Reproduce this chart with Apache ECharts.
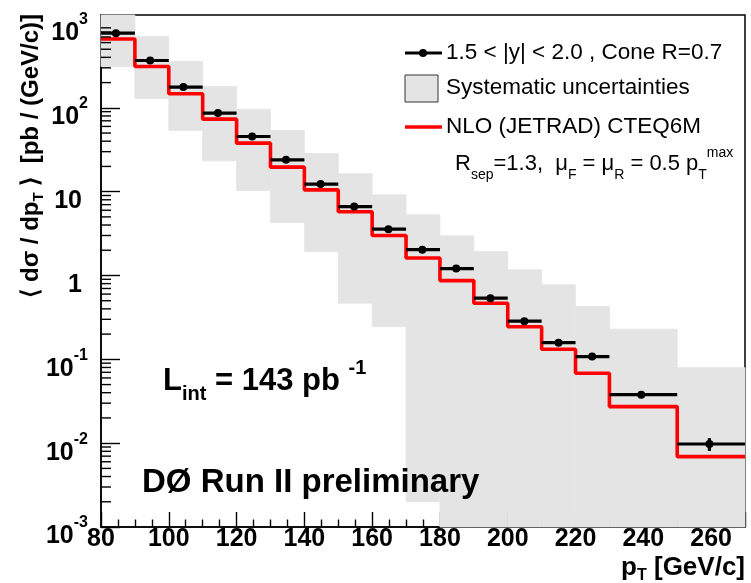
<!DOCTYPE html>
<html>
<head>
<meta charset="utf-8">
<script src="https://cdn.jsdelivr.net/npm/echarts@6/dist/echarts.min.js"></script>
<style>
html, body { margin: 0; padding: 0; background: #fff; }
#chart { width: 751px; height: 583px; }
</style>
</head>
<body>
<div id="chart"></div>
<script>
// pT bins [GeV/c]
var binLo = [80, 90, 100, 110, 120, 130, 140, 150, 160, 170, 180, 190, 200, 210, 220, 230, 250];
var binHi = [90, 100, 110, 120, 130, 140, 150, 160, 170, 180, 190, 200, 210, 220, 230, 250, 270];
// mean pT of each bin (where the marker sits)
var ptMean = [84.4, 94.5, 104.3, 114.5, 124.6, 134.6, 144.8, 154.7, 164.8, 174.8, 184.8, 194.9, 204.9, 215.0, 224.9, 239.4, 259.5];
// measured <dsigma/dpT> [pb/(GeV/c)] and statistical error
var xsec = [778, 367, 177, 86.5, 45.5, 24.0, 12.3, 6.64, 3.57, 2.03, 1.21, 0.537, 0.285, 0.158, 0.108, 0.0379, 0.00977];
var statErr = [2, 1, 0.5, 0.3, 0.15, 0.09, 0.05, 0.03, 0.02, 0.012, 0.008, 0.004, 0.003, 0.002, 0.0018, 0.0012, 0.0017];
// systematic band (lower / upper edge)
var sysLo = [311, 129, 53.6, 23.3, 10.3, 4.28, 1.93, 0.467, 0.245, 0.0020, 0.0005, 0.0005, 0.0005, 0.0005, 0.0005, 0.0005, 0.0005];
var sysHi = [1500, 710, 357, 180, 96, 53.6, 28.5, 16.4, 9.16, 5.29, 2.97, 1.93, 1.17, 0.773, 0.426, 0.229, 0.0796];
// NLO (JETRAD) CTEQ6M prediction per bin
var nlo = [661, 311, 147, 73.3, 37.9, 19.6, 10.5, 5.75, 3.0, 1.62, 0.869, 0.467, 0.245, 0.132, 0.0683, 0.0273, 0.0069];
// axis ticks
var xTicks = [80, 100, 120, 140, 160, 180, 200, 220, 240, 260];
var yDecades = [0.001, 0.01, 0.1, 1, 10, 100, 1000];
var yMin = 0.001, yMax = 1280;

var FONT = '"Liberation Sans", Arial, Helvetica, sans-serif';
var GRAY = '#e4e4e4';

// minor log ticks 2..9 in every decade
var yMinor = [];
yDecades.forEach(function (d) {
    for (var k = 2; k <= 9; k++) {
        if (d * k < yMax) yMinor.push(+(d * k).toPrecision(3));
    }
});

var bandData = [], pointData = [], nloData = [];
for (var i = 0; i < binLo.length; i++) {
    bandData.push([binLo[i], binHi[i], sysHi[i], sysLo[i]]);
    pointData.push([binLo[i], binHi[i], ptMean[i], xsec[i], statErr[i]]);
    nloData.push([binLo[i], nlo[i]]);
}
nloData.push([binHi[binHi.length - 1], nlo[nlo.length - 1]]);

function clipToGrid(rect, params) {
    return echarts.graphic.clipRectByRect(rect, {
        x: params.coordSys.x, y: params.coordSys.y,
        width: params.coordSys.width, height: params.coordSys.height
    });
}

function renderBand(params, api) {
    var a = api.coord([api.value(0), api.value(3)]);
    var b = api.coord([api.value(1), api.value(2)]);
    var rect = clipToGrid({x: a[0], y: b[1], width: b[0] - a[0], height: a[1] - b[1]}, params);
    if (!rect) return;
    return {type: 'rect', shape: rect, style: {fill: GRAY, stroke: GRAY, lineWidth: 0.8}};
}

function renderPoint(params, api) {
    var y = api.value(3), e = api.value(4);
    var l = api.coord([api.value(0), y]);
    var r = api.coord([api.value(1), y]);
    var c = api.coord([api.value(2), y]);
    var up = api.coord([api.value(2), y + e]);
    var dn = api.coord([api.value(2), y - e]);
    return {
        type: 'group',
        children: [
            {type: 'line', shape: {x1: l[0], y1: l[1], x2: r[0], y2: r[1]}, style: {stroke: '#000', lineWidth: 3.2}},
            {type: 'line', shape: {x1: c[0], y1: up[1], x2: c[0], y2: dn[1]}, style: {stroke: '#000', lineWidth: 3.2}},
            {type: 'circle', shape: {cx: c[0], cy: c[1], r: 4}, style: {fill: '#000'}}
        ]
    };
}

// minor ticks of the log axis, all drawn by one item through the y scale
function renderMinorTicks(params, api) {
    var x0 = params.coordSys.x;
    return {
        type: 'group',
        children: yMinor.map(function (v) {
            var p = api.coord([80, v]);
            return {type: 'line', shape: {x1: x0, y1: p[1], x2: x0 + 10, y2: p[1]}, style: {stroke: '#000', lineWidth: 1.4}};
        })
    };
}

// rich styles: base text centred in a tall line, subscripts sit at the bottom, superscripts at the top
function richSet(size, small, lh, subLh, supLh) {
    var s = {};
    ['normal', 'bold'].forEach(function (w) {
        var k = w === 'bold' ? 'b' : 'n';
        s[k] = {fontSize: size, fontWeight: w, fontFamily: FONT, lineHeight: lh, verticalAlign: 'middle'};
        s['s' + k] = {fontSize: small, fontWeight: w, fontFamily: FONT, lineHeight: subLh, verticalAlign: 'bottom'};
        s['p' + k] = {fontSize: small, fontWeight: w, fontFamily: FONT, lineHeight: supLh, verticalAlign: 'top'};
    });
    return s;
}

function label(x, y, text, size, opts) {
    opts = opts || {};
    return {
        type: 'text', x: x, y: y, rotation: opts.rotation || 0, z: 100,
        style: {
            text: text, fill: '#000', fontFamily: FONT, fontSize: size,
            fontWeight: opts.bold ? 'bold' : 'normal',
            align: opts.align || 'left', verticalAlign: 'middle',
            rich: opts.rich
        }
    };
}

var tickLine = {color: '#000', width: 1.4};

var option = {
    animation: false,
    backgroundColor: '#fff',
    grid: {left: 101, right: 6, top: 15, bottom: 56, show: true, borderColor: '#000', borderWidth: 1.5, outerBoundsMode: 'none'},
    xAxis: {
        type: 'value', min: 80, max: 270, interval: 20,
        axisLine: {lineStyle: {color: '#000', width: 1.5}},
        axisTick: {inside: true, length: 15, lineStyle: tickLine},
        minorTick: {show: true, splitNumber: 4, length: 7.5, lineStyle: tickLine},
        splitLine: {show: false},
        axisLabel: {
            color: '#000', fontSize: 25, fontWeight: 'bold', fontFamily: FONT, margin: 0,
            showMaxLabel: false,
            formatter: function (v) { return xTicks.indexOf(v) >= 0 ? String(v) : ''; }
        }
    },
    yAxis: {
        type: 'log', min: yMin, max: yMax, logBase: 10,
        axisLine: {lineStyle: {color: '#000', width: 1.5}},
        axisTick: {inside: true, length: 19, lineStyle: tickLine, customValues: yDecades},
        splitLine: {show: false},
        axisLabel: {
            color: '#000', margin: 13, padding: [10, 0, 0, 0],
            customValues: yDecades,
            formatter: function (v) {
                var e = Math.round(Math.log10(v));
                if (e === 0) return '{q|1}';
                if (e === 1) return '{q|10}';
                return '{b|10}{p|' + e + '}';
            },
            rich: {
                b: {fontSize: 25, fontWeight: 'bold', fontFamily: FONT, lineHeight: 34, verticalAlign: 'bottom'},
                q: {fontSize: 25, fontWeight: 'bold', fontFamily: FONT, lineHeight: 34, padding: [0, 6, 0, 0], verticalAlign: 'bottom'},
                p: {fontSize: 16, fontWeight: 'bold', fontFamily: FONT, lineHeight: 12, verticalAlign: 'top'}
            }
        }
    },
    series: [
        {
            name: 'Systematic uncertainties', type: 'custom', renderItem: renderBand,
            data: bandData, encode: {x: [0, 1], y: [2, 3]}, z: 1, silent: true
        },
        {
            name: 'NLO (JETRAD) CTEQ6M', type: 'line', step: 'end', data: nloData,
            symbol: 'none', lineStyle: {color: '#ff0000', width: 3.6}, z: 3, silent: true
        },
        {
            name: '1.5 < |y| < 2.0 , Cone R=0.7', type: 'custom', renderItem: renderPoint,
            data: pointData, encode: {x: [0, 1, 2], y: 3}, z: 5, silent: true
        },
        {
            name: 'minor ticks', type: 'custom', renderItem: renderMinorTicks,
            data: [[100, 1]], encode: {x: 0, y: 1}, z: 6, silent: true
        }
    ],
    graphic: [
        // axis titles
        label(31, 14, '{b|⟨ dσ / dp}{sb|T}{b| ⟩  [pb / (GeV/c)]}', 24,
            {bold: true, align: 'right', rotation: Math.PI / 2, rich: richSet(24, 15, 30, 16, 16)}),
        label(745, 568, '{b|p}{sb|T}{b| [GeV/c]}', 26,
            {bold: true, align: 'right', rich: richSet(26, 16, 32, 16, 16)}),
        // legend
        {type: 'line', shape: {x1: 405, y1: 53, x2: 442, y2: 53}, style: {stroke: '#000', lineWidth: 3.2}, z: 100},
        {type: 'circle', shape: {cx: 423, cy: 53, r: 4}, style: {fill: '#000'}, z: 100},
        label(446, 53, '1.5 < |y| < 2.0 , Cone R=0.7', 22.5),
        {type: 'rect', shape: {x: 405, y: 75, width: 33, height: 27}, style: {fill: GRAY, stroke: '#333', lineWidth: 1}, z: 100},
        label(446, 88, 'Systematic uncertainties', 22.5),
        {type: 'line', shape: {x1: 405, y1: 127, x2: 442, y2: 127}, style: {stroke: '#ff0000', lineWidth: 3.6}, z: 100},
        label(446, 127, 'NLO (JETRAD) CTEQ6M', 22.5),
        label(455, 164, '{n|R}{sn|sep}{n|=1.3,  μ}{sn|F}{n| = μ}{sn|R}{n| = 0.5 p}{sn|T}{pn|max}', 22,
            {rich: richSet(22, 14, 36, 22, 20)}),
        // annotations
        label(163, 381, '{b|L}{sb|int}{b| = 143 pb }{pb|-1}', 31,
            {bold: true, rich: richSet(31, 20, 46, 26, 22)}),
        label(142, 483, 'DØ Run II preliminary', 33, {bold: true})
    ]
};

var myChart = echarts.init(document.getElementById('chart'));
myChart.setOption(option);
</script>
</body>
</html>
